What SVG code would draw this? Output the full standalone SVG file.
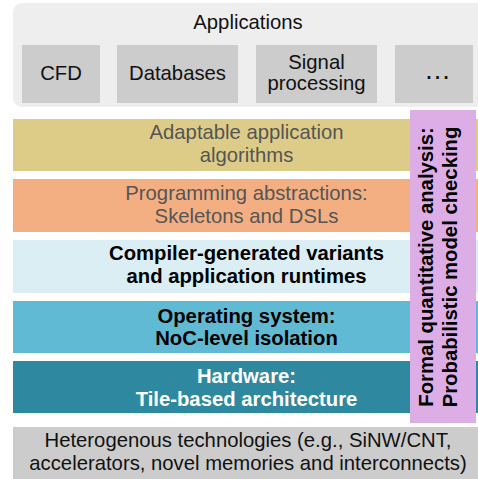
<svg xmlns="http://www.w3.org/2000/svg" width="478" height="479" viewBox="0 0 478 479">
<style>
text{font-family:"Liberation Sans",Arial,sans-serif;font-size:20.3px;text-anchor:middle}
.n{fill:#111}
.g{fill:#555555}
.b{font-weight:bold;fill:#000}
.w{font-weight:bold;fill:#fff}
.box{fill:#CCCCCC}
</style>
<rect width="478" height="479" fill="#fff"/>
<g id="applications">
<rect x="13" y="3" width="475" height="104" rx="9" fill="#EEEEEE"/>
<text class="n" x="248" y="29">Applications</text>
</g>
<g id="cfd"><rect class="box" x="22" y="45" width="78" height="58"/><text class="n" x="61" y="80">CFD</text></g>
<g id="databases"><rect class="box" x="117" y="45" width="121" height="58"/><text class="n" x="177.5" y="80">Databases</text></g>
<g id="signal"><rect class="box" x="256" y="45" width="121" height="58"/><text class="n" x="316.5" y="69">Signal</text><text class="n" x="316.5" y="90">processing</text></g>
<g id="more"><rect class="box" x="395" y="45" width="78" height="58"/><text class="n" x="437.5" y="79" style="font-size:27px">…</text></g>
<g id="algorithms"><rect x="13" y="119" width="465" height="52" fill="#DDCC88"/><text class="g" x="246.5" y="139">Adaptable application</text><text class="g" x="246.5" y="162">algorithms</text></g>
<g id="abstractions"><rect x="13" y="179" width="465" height="53" fill="#F3AF82"/><text class="g" x="246.5" y="200">Programming abstractions:</text><text class="g" x="246.5" y="223">Skeletons and DSLs</text></g>
<g id="compiler"><rect x="13" y="240" width="465" height="53" fill="#DAEEF3"/><text class="b" x="246.5" y="260">Compiler-generated variants</text><text class="b" x="246.5" y="283">and application runtimes</text></g>
<g id="os"><rect x="13" y="301" width="465" height="52" fill="#61BAD3"/><text class="b" x="246.5" y="323">Operating system:</text><text class="b" x="246.5" y="345">NoC-level isolation</text></g>
<g id="hardware"><rect x="13" y="361" width="465" height="52" fill="#2E89A0"/><text class="w" x="246.5" y="383">Hardware:</text><text class="w" x="246.5" y="406">Tile-based architecture</text></g>
<g id="technologies"><rect x="13" y="427" width="465" height="52" fill="#CCCCCC"/><text class="n" x="248" y="447">Heterogenous technologies (e.g., SiNW/CNT,</text><text class="n" x="248" y="470">accelerators, novel memories and interconnects)</text></g>
<g id="formal"><rect x="410" y="110" width="66" height="313" fill="#DCAEE5"/>
<text class="b" transform="translate(433,267) rotate(-90)">Formal quantitative analysis:</text>
<text class="b" transform="translate(457,267) rotate(-90)">Probabilistic model checking</text></g>
<g id="connectors"></g>
</svg>
